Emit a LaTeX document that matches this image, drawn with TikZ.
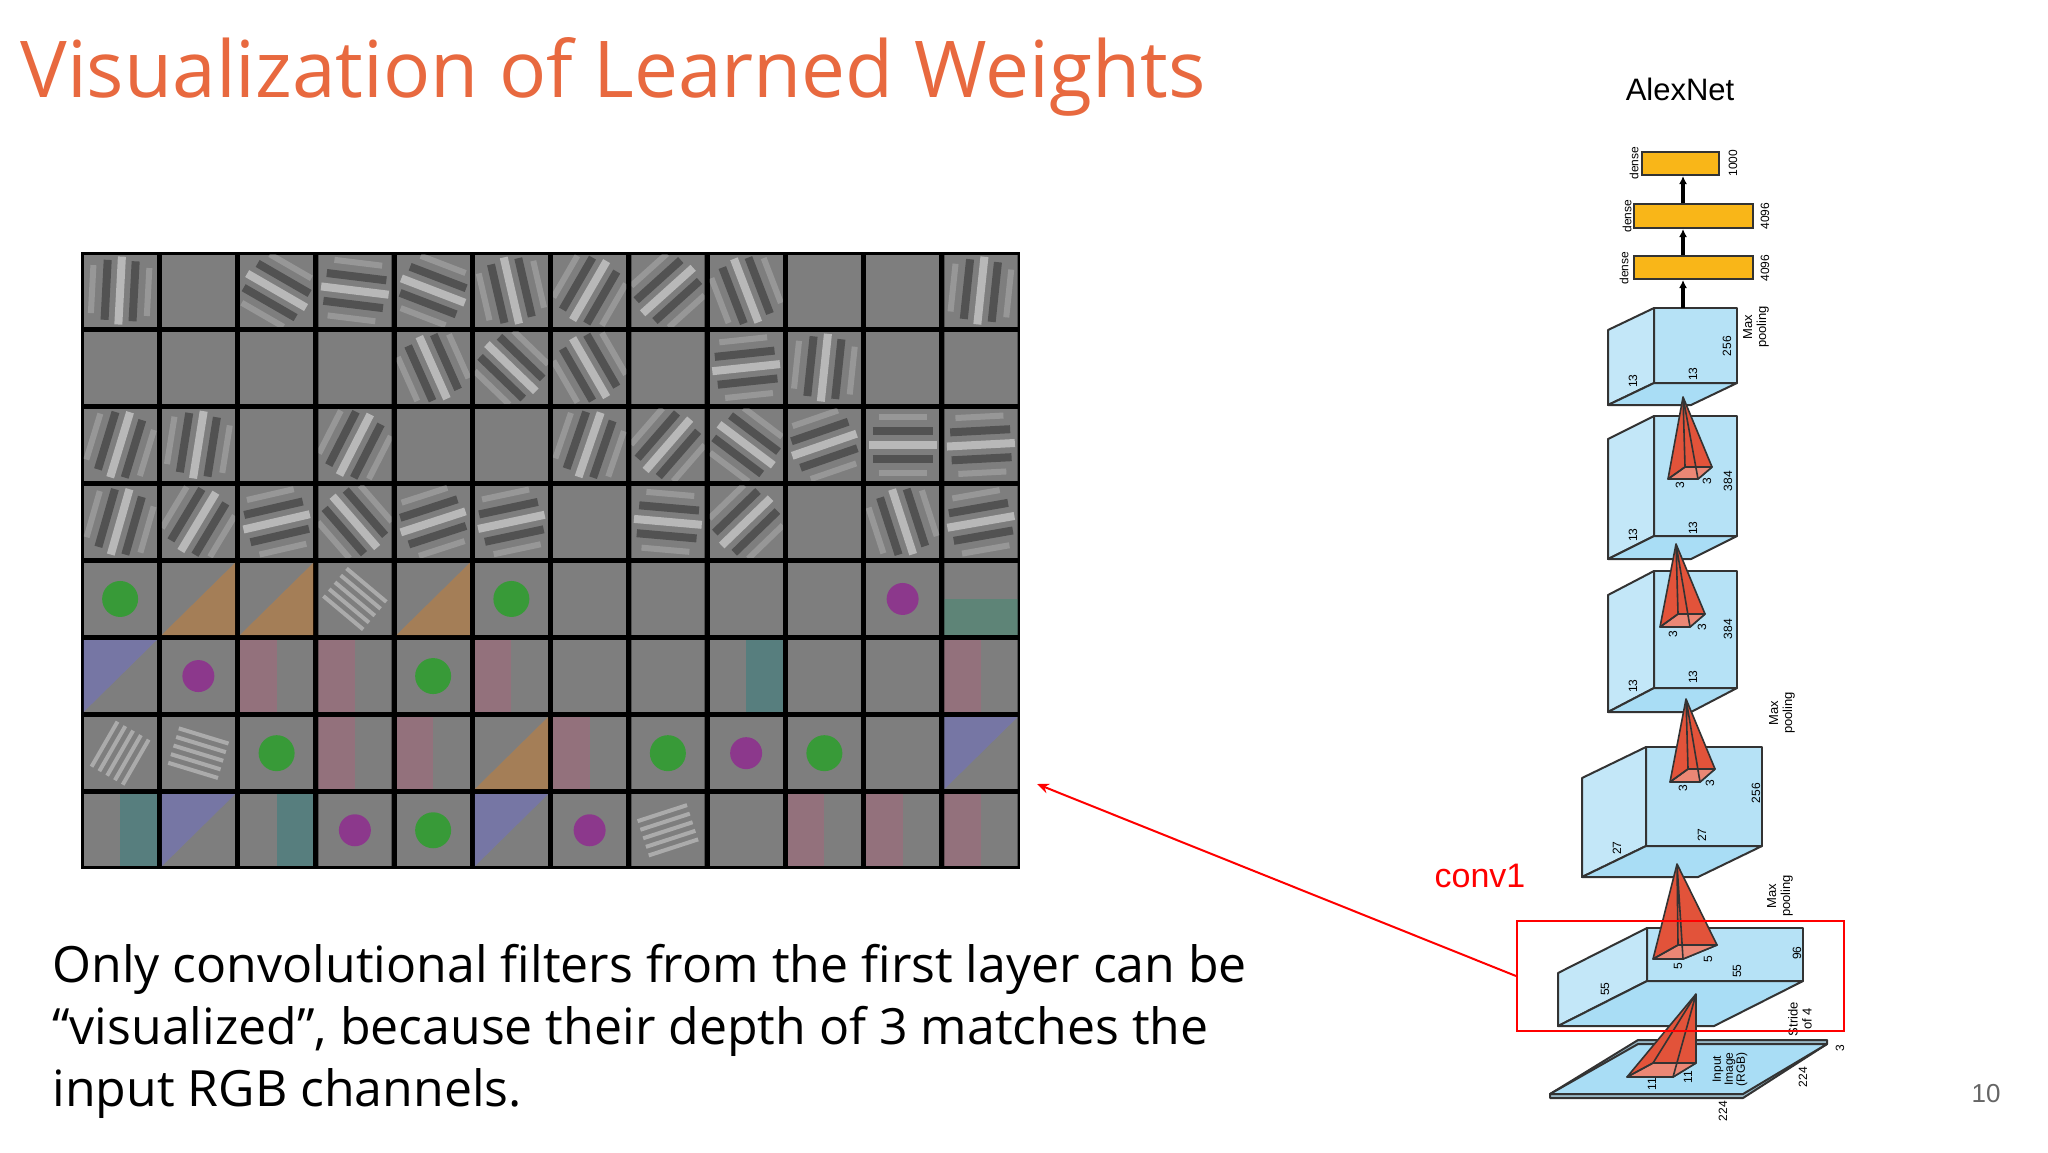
\documentclass[tikz,border=0pt]{standalone}
\usepackage{fontspec}
\setmainfont{Open Sans}
\newfontfamily\arial{Liberation Sans}
\usetikzlibrary{arrows.meta}
\definecolor{ttl}{HTML}{E8693F}
\definecolor{cube}{HTML}{A9DDF5}
\definecolor{pyr}{HTML}{E2533A}
\definecolor{dns}{HTML}{F9B618}
\definecolor{cellg}{HTML}{7E7E7E}
\tikzset{
 cubeface/.style={fill=cube,draw=black!80,line width=1pt,line join=round},
 pyrface/.style={fill=pyr,draw=black!80,line width=0.8pt,line join=round},
 dbox/.style={fill=dns,draw=black!80,line width=1pt},
 lbl/.style={font=\arial\fontsize{6}{6}\selectfont,rotate=90,inner sep=0pt,align=center},
 mlbl/.style={font=\arial\fontsize{6.5}{7}\selectfont,rotate=90,inner sep=0pt,align=center},
}
\newcommand{\mycube}[6]{% x1,y1,x2,y2,dx,dy (front face, offset)
 \draw[cubeface,fill=cube!85!white] (#1,#2) rectangle (#3,#4);
 \draw[cubeface,fill=cube!70!white] (#1,#2) -- ({#1+#5},{#2+#6}) -- ({#1+#5},{#4+#6}) -- (#1,#4) -- cycle;
 \draw[cubeface,fill=cube] ({#1+#5},{#4+#6}) -- ({#3+#5},{#4+#6}) -- (#3,#4) -- (#1,#4) -- cycle;
}
\newcommand{\mypyr}[9]{% apex x y, B1 x y, B2 x y, B3 x, B4 x, B3/B4 y
 \draw[pyrface] (#1,#2) -- (#3,#4) -- (#5,#6) -- (#7,#9) -- cycle;
 \draw[pyrface,fill=pyr!70!white] (#3,#4) -- (#5,#6) -- (#7,#9) -- (#8,#9) -- cycle;
 \draw[black!80,line width=0.8pt] (#1,#2) -- (#8,#9) (#8,#9) -- (#3,#4) (#1,#2) -- (#5,#6);
}
\begin{document}
\begin{tikzpicture}[x=0.5pt,y=-0.5pt]
\useasboundingbox[fill=white] (0,0) rectangle (2048,1152);
% title
\node[anchor=base west,text=ttl,font=\fontsize{39.2}{41}\selectfont,inner sep=0pt] (title) at (20,97) {Visualization of Learned Weights};
% filter grid
\fill[black] (81,252) rectangle (1020,869);
\pgfmathsetseed{7}
\foreach \r in {0,...,7}{
 \foreach \c in {0,...,11}{
  \pgfmathsetmacro{\xa}{81+\c*78.25+2.5}
  \pgfmathsetmacro{\ya}{252+\r*77.1+2.5}
  \pgfmathsetmacro{\xb}{\xa+73.25}
  \pgfmathsetmacro{\yb}{\ya+72.1}
  \pgfmathsetmacro{\xm}{(\xa+\xb)/2}
  \pgfmathsetmacro{\ym}{(\ya+\yb)/2}
  \pgfmathsetmacro{\ang}{random(0,179)}
  \pgfmathsetmacro{\kind}{random(0,9)}
  \begin{scope}
   \clip (\xa,\ya) rectangle (\xb,\yb);
   \fill[cellg] (\xa,\ya) rectangle (\xb,\yb);
   \ifnum\r<4
     \ifnum\kind<7
      \begin{scope}[shift={(\xm,\ym)},rotate=\ang]
       \draw[white,opacity=0.45,line width=4pt] (-34,0) -- (34,0);
       \draw[black,opacity=0.35,line width=4pt] (-30,14) -- (30,14) (-30,-14) -- (30,-14);
       \draw[white,opacity=0.2,line width=3pt] (-24,28) -- (24,28) (-24,-28) -- (24,-28);
      \end{scope}
     \fi
   \else
     \ifcase\kind
       \fill[violet!80!magenta,opacity=0.55] (\xm,\ym) circle (16);
     \or \fill[green!70!black,opacity=0.55] (\xm,\ym) circle (18);
     \or \fill[orange,opacity=0.3] (\xa,\yb) -- (\xb,\ya) -- (\xb,\yb) -- cycle;
     \or \fill[blue!60,opacity=0.3] (\xa,\ya) -- (\xb,\ya) -- (\xa,\yb) -- cycle;
     \or \fill[teal,opacity=0.3] (\xm,\ya) rectangle (\xb,\yb);
     \or \begin{scope}[shift={(\xm,\ym)},rotate=\ang]
          \foreach \k in {-2,...,2}{\draw[white,opacity=0.35,line width=2pt] (-26,\k*9) -- (26,\k*9);}
        \end{scope}
     \or \fill[purple!70,opacity=0.25] (\xa,\ya) rectangle (\xm,\yb);
     \or \fill[green!60!blue,opacity=0.25] (\xa,\ym) rectangle (\xb,\yb);
     \else
     \fi
   \fi
  \end{scope}
 }
}
\coordinate (gridarrow) at (1037,784);
% body text
\node[anchor=base west,align=left,font=\fontsize{25}{31}\selectfont,inner sep=0pt] (body) at (52,1106)
 {Only convolutional filters from the first layer can be\\``visualized'', because their depth of 3 matches the\\input RGB channels.};
% page number
\node[text=black!60,font=\arial\fontsize{13}{13}\selectfont] (pg) at (1986,1094) {10};
% AlexNet
\node[font=\arial\fontsize{15.5}{16}\selectfont] (alex) at (1680,89) {AlexNet};
% input plane
\draw[cubeface,fill=cube!60!gray] (1638,1040) -- (1827,1040) -- (1827,1044) -- (1743,1098) -- (1550,1098) -- (1550,1094) -- cycle;
\draw[cubeface] (1638,1044) -- (1827,1044) -- (1743,1094) -- (1550,1094) -- cycle;
% cubes
\mycube{1647}{928}{1803}{981}{-89}{45}
\mycube{1646}{747}{1762}{846}{-64}{31}
\mycube{1654}{571}{1737}{688}{-46}{24}
\mycube{1654}{416}{1737}{536}{-46}{23}
\mycube{1654}{308}{1737}{383}{-46}{22}
% pyramids
\mypyr{1696}{994}{1627}{1077}{1673}{1077}{1696}{1653}{1063}
\mypyr{1677}{864}{1653}{959}{1683}{959}{1717}{1678}{945}
\mypyr{1686}{699}{1670}{782}{1700}{782}{1715}{1688}{769}
\mypyr{1676}{544}{1660}{627}{1690}{627}{1705}{1678}{614}
\mypyr{1683}{397}{1668}{479}{1698}{479}{1712}{1685}{467}
% dense
\node[dbox,minimum width=119*0.5pt,minimum height=23*0.5pt,inner sep=0pt] (d1) at (1693.5,267.5) {};
\node[dbox,minimum width=119*0.5pt,minimum height=24*0.5pt,inner sep=0pt] (d2) at (1693.5,216) {};
\node[dbox,minimum width=77*0.5pt,minimum height=23*0.5pt,inner sep=0pt] (d3) at (1680.5,163.5) {};
\coordinate (c1top) at (1683,308);
\draw[-{Latex[length=4pt,width=4pt]},line width=1.6pt] (c1top) -- (d1.south -| c1top);
\draw[-{Latex[length=4pt,width=4pt]},line width=1.6pt] (d1.north -| c1top) -- (d2.south -| c1top);
\draw[-{Latex[length=4pt,width=4pt]},line width=1.6pt] (d2.north -| c1top) -- (d3.south -| c1top);
\node[lbl] (ld1) at (1624,268) {dense};
\node[lbl] (ld2) at (1627,216) {dense};
\node[lbl] (ld3) at (1634,163) {dense};
\node[lbl] (n1) at (1765,268) {4096};
\node[lbl] (n2) at (1765,216) {4096};
\node[lbl] (n3) at (1733,163) {1000};
% labels
\node[mlbl] at (1756,327) {Max\\pooling};
\node[lbl] at (1633,381) {13};
\node[lbl] at (1693,374) {13};
\node[lbl] at (1727,346) {256};
\node[lbl] at (1633,535) {13};
\node[lbl] at (1693,528) {13};
\node[lbl] at (1680,485) {3};
\node[lbl] at (1707,481) {3};
\node[lbl] at (1728,481) {384};
\node[lbl] at (1633,686) {13};
\node[lbl] at (1693,677) {13};
\node[lbl] at (1673,634) {3};
\node[lbl] at (1702,627) {3};
\node[lbl] at (1728,629) {384};
\node[mlbl] at (1782,713) {Max\\pooling};
\node[lbl] at (1617,848) {27};
\node[lbl] at (1702,835) {27};
\node[lbl] at (1683,788) {3};
\node[lbl] at (1710,783) {3};
\node[lbl] at (1756,793) {256};
\node[mlbl] at (1780,896) {Max\\pooling};
\node[lbl] at (1605,989) {55};
\node[lbl] at (1678,966) {5};
\node[lbl] at (1708,959) {5};
\node[lbl] at (1737,971) {55};
\node[lbl] at (1797,953) {96};
\node[mlbl] at (1800,1019) {Stride\\of 4};
\node[lbl] at (1652,1084) {11};
\node[lbl] at (1688,1077) {11};
\node[lbl] at (1730,1069) {Input\\Image\\(RGB)};
\node[lbl] at (1723,1111) {224};
\node[lbl] at (1803,1077) {224};
\node[lbl] at (1840,1048) {3};
% conv1 highlight
\node[draw=red,line width=1pt,minimum width=327*0.5pt,minimum height=110*0.5pt,inner sep=0pt] (conv1box) at (1680.5,976) {};
\node[text=red,font=\arial\fontsize{17}{17}\selectfont] (conv1) at (1480,876) {conv1};
\draw[red,line width=1pt,-{Stealth[length=6pt,width=5pt]}] (conv1box.west) -- (gridarrow);
\end{tikzpicture}
\end{document}
